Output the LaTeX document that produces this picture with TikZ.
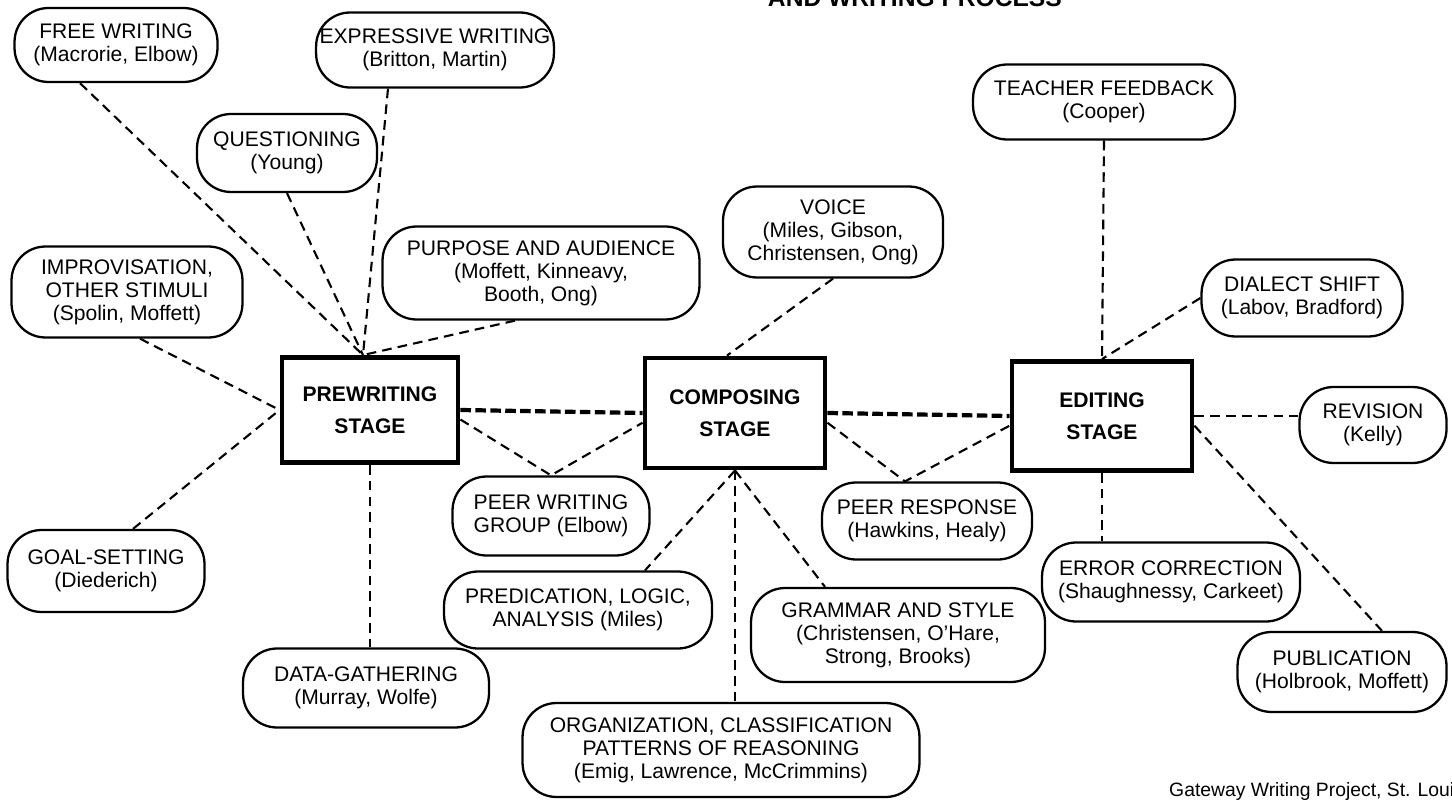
\documentclass[tikz,border=0pt]{standalone}
\usepackage{fontspec}
\setmainfont{Liberation Sans}
\usetikzlibrary{positioning,calc}
\tikzset{
  topic/.style={draw, rounded corners=0.68cm, line width=1.3pt, align=center,
    font=\fontsize{12}{13}\selectfont, inner sep=2pt},
  stage/.style={draw, line width=2.8pt, align=center,
    font=\fontsize{12}{18}\selectfont\bfseries, inner sep=4pt},
  link/.style={line width=1.2pt, dash pattern=on 5.5pt off 3.5pt},
  mainlink/.style={line width=2.4pt, dash pattern=on 6pt off 2.5pt},
  heading/.style={font=\fontsize{14}{16}\selectfont\bfseries},
  credit/.style={font=\fontsize{11}{13}\selectfont},
}

\begin{document}
\begin{tikzpicture}[x=0.02cm, y=-0.02cm]
  \clip (0,0) rectangle (1452,800);
  \node[heading, anchor=base east] (head) at (1068,7) {AND WRITING PROCESS};
  % stages
  \node[stage, minimum width=3.52cm, minimum height=2.1cm] (pre) at (370,410) {PREWRITING\\STAGE};
  \node[stage, minimum width=3.6cm, minimum height=2.2cm] (comp) at (735,413) {COMPOSING\\STAGE};
  \node[stage, minimum width=3.6cm, minimum height=2.18cm] (edit) at (1102,416) {EDITING\\STAGE};
  % prewriting topics
  \node[topic, minimum width=4.06cm, minimum height=1.48cm] (free) at (116,45) {FREE WRITING\\(Macrorie, Elbow)};
  \node[topic, minimum width=4.4cm, minimum height=1.5cm] (expr) at (435,50) {EXPRESSIVE WRITING\\(Britton, Martin)};
  \node[topic, minimum width=3.6cm, minimum height=1.56cm] (quest) at (287,153) {QUESTIONING\\(Young)};
  \node[topic, minimum width=4.62cm, minimum height=1.82cm] (impro) at (127,292) {IMPROVISATION,\\OTHER STIMULI\\(Spolin, Moffett)};
  \node[topic, minimum width=6.34cm, minimum height=1.86cm] (purp) at (541,273) {PURPOSE AND AUDIENCE\\(Moffett, Kinneavy,\\Booth, Ong)};
  \node[topic, minimum width=3.94cm, minimum height=1.64cm] (goal) at (106,571) {GOAL-SETTING\\(Diederich)};
  \node[topic, minimum width=4.92cm, minimum height=1.58cm] (data) at (366,688) {DATA-GATHERING\\(Murray, Wolfe)};
  \node[topic, minimum width=3.94cm, minimum height=1.58cm] (pw) at (551,516) {PEER WRITING\\GROUP (Elbow)};
  % composing topics
  \node[topic, minimum width=4.4cm, minimum height=1.82cm] (voice) at (833,232) {VOICE\\(Miles, Gibson,\\Christensen, Ong)};
  \node[topic, minimum width=5.36cm, minimum height=1.54cm] (pred) at (578,610) {PREDICATION, LOGIC,\\ANALYSIS (Miles)};
  \node[topic, minimum width=5.88cm, minimum height=1.88cm] (gram) at (898,635) {GRAMMAR AND STYLE\\(Christensen, O'Hare,\\Strong, Brooks)};
  \node[topic, minimum width=7.94cm, minimum height=1.88cm] (org) at (721,750) {ORGANIZATION, CLASSIFICATION\\PATTERNS OF REASONING\\(Emig, Lawrence, McCrimmins)};
  \node[topic, minimum width=4.2cm, minimum height=1.54cm] (pr) at (927,521) {PEER RESPONSE\\(Hawkins, Healy)};
  % editing topics
  \node[topic, minimum width=5.24cm, minimum height=1.5cm] (teach) at (1104,102) {TEACHER FEEDBACK\\(Cooper)};
  \node[topic, minimum width=4.02cm, minimum height=1.54cm] (dial) at (1302,298) {DIALECT SHIFT\\(Labov, Bradford)};
  \node[topic, minimum width=2.94cm, minimum height=1.52cm] (rev) at (1373,425) {REVISION\\(Kelly)};
  \node[topic, minimum width=5.16cm, minimum height=1.58cm] (err) at (1171,582) {ERROR CORRECTION\\(Shaughnessy, Carkeet)};
  \node[topic, minimum width=4.18cm, minimum height=1.6cm] (pub) at (1342,672) {PUBLICATION\\(Holbrook, Moffett)};
  \node[credit, anchor=base west] (src) at (1163,796) {Gateway Writing Project, St. Louis};
  \coordinate (pretop) at ($(pre.north)+(-7,0)$);
  % stage to stage
  \draw[mainlink] (pre.east) -- (comp.west);
  \draw[mainlink] (comp.east) -- (edit.west);
  % prewriting links
  \draw[link] ($(free.south)+(-36,0)$) -- (pretop);
  \draw[link] ($(expr.south)+(-47,0)$) -- (pretop);
  \draw[link] (quest.south) -- (pretop);
  \draw[link] ($(purp.south)+(-26,0)$) -- (pretop);
  \draw[link] ($(impro.south)+(13,0)$) -- (pre.west);
  \draw[link] ($(goal.north)+(27,0)$) -- (pre.west);
  \draw[link] (pre.south) -- (pre.south |- data.north);
  \draw[link] (pre.-6) -- (pw.north) -- (comp.186);
  % composing links
  \draw[link] (voice.south) -- ($(comp.north)+(-8,0)$);
  \draw[link] (comp.south) -- ($(pred.north)+(67,0)$);
  \draw[link] (comp.south) -- (comp.south |- org.north);
  \draw[link] (comp.south) -- ($(gram.north)+(-73,0)$);
  \draw[link] (comp.-6) -- ($(pr.north)+(-22,0)$) -- (edit.186);
  % editing links
  \draw[link] (teach.south) -- (edit.north);
  \draw[link] (dial.west) -- (edit.north);
  \draw[link] (edit.east) -- (edit.east -| rev.west);
  \draw[link] (edit.-6) -- ($(pub.north)+(40,0)$);
  \draw[link] (edit.south) -- (edit.south |- err.north);
\end{tikzpicture}
\end{document}
